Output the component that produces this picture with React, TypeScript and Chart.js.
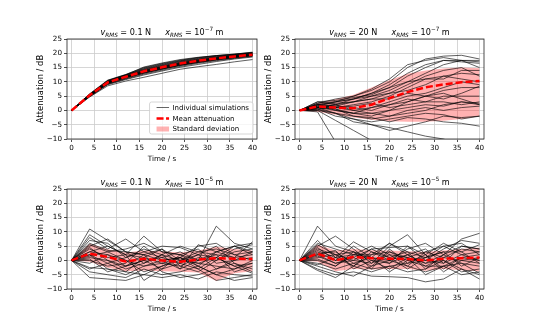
import React, { useEffect, useRef } from 'react';
import { Chart, registerables } from 'chart.js';
Chart.register(...registerables);

// ---------------- DATA ----------------
const TIME = [0, 4, 8, 12, 16, 20, 24, 28, 32, 36, 40];
const X_TICKS = [0, 5, 10, 15, 20, 25, 30, 35, 40];
const Y_TICKS = [-10, -5, 0, 5, 10, 15, 20, 25];
const FORCE_LABELS = ['0.1 N', '20 N', '0.1 N', '20 N'];
const DISP_EXPONENTS = ['\u22127', '\u22127', '\u22125', '\u22125'];
const LEGEND_LABELS = ['Individual simulations', 'Mean attenuation', 'Standard deviation'];
const X_TITLE = 'Time / s';
const Y_TITLE = 'Attenuation / dB';

// Panel 1: v = 0.1 N, x = 1e-7 m
const MEAN_1 = [0, 5.3, 9.8, 11.8, 13.7, 15.1, 16.4, 17.4, 18.2, 18.9, 19.5];
const LO_1 = [0, 4.8, 9.1, 11.0, 12.8, 14.3, 15.6, 16.7, 17.5, 18.3, 18.9];
const HI_1 = [0, 5.8, 10.4, 12.5, 14.6, 15.9, 17.2, 18.1, 18.9, 19.5, 20.1];
const SIMS_1 = [
  [0, 5.5, 10.2, 12.3, 14.4, 15.8, 17.1, 18.0, 18.8, 19.4, 20.1],
  [0, 5.2, 9.7, 11.7, 13.5, 14.9, 16.2, 17.2, 18.1, 18.8, 19.4],
  [0, 5.8, 10.6, 12.6, 15.0, 16.4, 17.6, 18.5, 19.2, 19.7, 20.4],
  [0, 4.9, 9.3, 11.2, 13.0, 14.4, 15.7, 16.8, 17.7, 18.4, 19.1],
  [0, 5.4, 10.0, 12.0, 14.0, 15.4, 16.7, 17.7, 18.5, 19.2, 19.8],
  [0, 5.1, 9.5, 11.5, 13.3, 14.7, 16.0, 17.0, 17.9, 18.6, 19.3],
  [0, 5.6, 10.4, 12.4, 14.6, 16.0, 17.3, 18.2, 19.0, 19.5, 20.1],
  [0, 4.7, 8.6, 10.3, 11.6, 13.0, 14.4, 15.3, 16.1, 17.0, 17.8],
  [0, 5.3, 9.9, 11.9, 13.8, 15.2, 16.5, 17.5, 18.3, 19.0, 19.6],
  [0, 5.0, 9.2, 11.0, 12.7, 14.1, 15.4, 16.5, 17.4, 18.2, 18.9],
  [0, 5.7, 10.5, 12.5, 15.2, 16.6, 17.8, 18.6, 19.2, 19.7, 20.3],
  [0, 5.3, 9.8, 11.8, 13.6, 15.1, 16.4, 17.4, 18.3, 19.0, 19.6],
  [0, 5.2, 9.6, 11.6, 13.2, 14.6, 15.9, 16.9, 17.8, 18.6, 19.2],
  [0, 5.5, 10.1, 12.2, 14.2, 15.6, 16.9, 17.9, 18.7, 19.3, 19.9],
  [0, 4.8, 9.0, 10.8, 12.4, 13.8, 15.1, 16.1, 17.1, 18.0, 18.7],
  [0, 5.4, 9.9, 11.9, 14.0, 15.3, 16.6, 17.6, 18.4, 19.1, 19.8],
  [0, 5.6, 10.3, 12.4, 14.8, 16.2, 17.4, 18.4, 19.1, 19.6, 20.2],
  [0, 5.1, 9.4, 11.4, 13.1, 14.5, 15.8, 16.8, 17.7, 18.5, 19.2],
  [0, 5.3, 9.7, 11.8, 13.7, 15.1, 16.3, 17.3, 18.2, 18.9, 19.5],
  [0, 5.0, 9.6, 11.6, 13.4, 14.8, 16.1, 17.1, 18.0, 18.8, 19.4],
];

// Panel 2: v = 20 N, x = 1e-7 m
const MEAN_2 = [0, 1.4, 1.0, 0.8, 2.0, 4.3, 6.4, 8.1, 9.1, 9.9, 10.3];
const LO_2 = [0, -0.5, -1.5, -2.5, -3.3, -3.8, -4.0, -4.0, -3.6, -3.0, -2.0];
const HI_2 = [0, 2.6, 3.9, 5.5, 8.0, 10.6, 12.8, 14.0, 14.7, 15.0, 14.8];
const SIMS_2 = [
  [0, 2.0, 3.0, 5.0, 7.0, 10.0, 15.0, 18.0, 19.0, 19.3, 18.0],
  [0, 2.5, 4.0, 5.0, 7.5, 11.0, 16.0, 17.5, 18.5, 17.5, 17.5],
  [0, 1.5, 3.0, 4.0, 6.0, 9.0, 13.0, 16.0, 17.5, 17.5, 17.0],
  [0, 3.0, 3.5, 4.5, 5.5, 8.0, 12.0, 15.0, 17.5, 17.0, 16.5],
  [0, 2.0, 2.5, 3.0, 5.0, 7.0, 10.0, 13.0, 16.0, 17.5, 15.0],
  [0, 1.0, 2.0, 3.0, 4.0, 6.0, 9.0, 12.0, 14.0, 15.0, 12.0],
  [0, 1.5, 1.0, 2.0, 3.0, 5.0, 8.0, 11.0, 12.0, 11.0, 10.0],
  [0, 0.5, 1.0, 0.0, 1.0, 3.0, 5.0, 6.0, 8.0, 10.0, 9.0],
  [0, 2.0, 1.5, 1.0, 0.0, 2.0, 3.0, 5.0, 4.0, 6.0, 8.5],
  [0, 1.0, 0.0, -1.0, 1.0, 2.0, 4.0, 3.0, 5.0, 5.0, 5.0],
  [0, 2.0, 1.0, 1.5, 2.5, 1.0, 2.0, 3.0, 3.0, 2.0, 3.0],
  [0, 3.0, 2.0, 0.0, -1.0, 0.0, 1.0, 2.0, 1.5, 3.0, 2.0],
  [0, 1.0, -1.0, -2.0, -3.0, -2.0, 0.0, 1.0, 0.0, 1.0, 1.5],
  [0, 0.5, -2.0, -3.0, -4.0, -3.0, -2.0, -1.0, -1.5, -3.0, -2.0],
  [0, 1.5, 0.5, -2.0, -2.5, -4.0, -2.5, -3.0, -4.0, -4.5, -5.5],
  [0, 0.0, -1.0, -4.0, -5.0, -6.0, -7.5, -9.0, -10.0, -12.0, -13.0],
  [0, -0.5, -11.0, -14.0, -16.0, -17.0, -18.0, -19.0, -20.0, -21.0, -22.0],
  [0, 0.0, -3.5, -7.0, -10.5, -14.0, -16.0, -18.0, -19.0, -20.0, -21.0],
  [0, 2.0, 0.0, -1.0, -1.0, -2.0, -1.0, 0.0, 2.0, 3.0, 2.5],
  [0, 1.0, 2.0, 4.0, 5.0, 6.0, 7.0, 9.0, 12.0, 13.0, 12.5],
  [0, 2.5, 3.0, 4.0, 6.0, 8.0, 10.0, 11.0, 11.0, 14.0, 14.0],
  [0, 1.0, 0.5, -1.0, -2.0, 0.0, 3.0, 5.0, 7.0, 8.0, 8.0],
  [0, 0.5, -1.0, -3.0, -5.0, -7.0, -5.5, -4.0, -2.0, -2.5, -2.0],
  [0, 1.0, 1.5, 3.0, 4.0, 4.0, 6.0, 5.0, 6.0, 4.0, 2.0],
];

// Panel 3: v = 0.1 N, x = 1e-5 m
const MEAN_3 = [0, 2.4, 1.2, -0.4, 0.6, 0.0, -0.5, 0.3, 0.8, 0.6, 0.5];
const LO_3 = [0, -0.5, -2.6, -3.8, -3.5, -3.8, -4.0, -4.2, -7.2, -4.5, -3.8];
const HI_3 = [0, 5.8, 3.9, 2.8, 3.5, 3.2, 2.8, 3.5, 4.8, 4.0, 3.5];
const SIMS_3 = [
  [0, 11.0, 7.0, 3.0, 2.0, 0.0, 1.0, -2.0, 3.0, 5.0, 6.0],
  [0, 9.0, 5.0, 2.0, 8.5, 3.0, 2.0, 0.0, 12.0, 6.0, 4.0],
  [0, 8.0, 4.0, 7.5, 3.0, 5.0, 4.5, 2.0, 5.0, -1.0, -4.0],
  [0, 7.0, 6.0, 1.0, 4.0, 2.0, 0.0, 3.0, 2.0, 1.0, 6.5],
  [0, 5.5, 3.0, 0.0, -2.0, -1.0, 1.0, 5.0, 6.0, 2.0, 3.0],
  [0, 4.0, 1.0, 2.0, 1.0, 4.0, -2.0, 1.0, 0.0, 4.0, 5.5],
  [0, 3.0, 2.0, -2.0, 0.0, -3.0, 2.0, 4.0, -1.0, 0.0, 1.0],
  [0, 2.0, -1.0, 1.0, 3.0, 1.0, -1.0, -3.0, 1.0, -2.0, -1.0],
  [0, 1.0, 0.0, -3.0, -1.0, 2.0, -3.0, 0.0, 3.0, 5.0, 2.0],
  [0, 0.0, -2.0, -1.0, 5.0, 0.0, 1.0, -1.0, -2.0, -3.0, 0.0],
  [0, -1.0, 2.0, 0.0, -4.0, -2.0, 0.0, 2.0, -3.0, -1.0, -3.0],
  [0, -2.5, -3.0, -4.0, 1.0, -1.0, -2.0, -4.0, 0.0, 3.0, 4.0],
  [0, -4.0, -5.0, -6.0, -3.0, -5.0, -4.0, -2.0, -5.0, -7.0, -6.0],
  [0, -6.0, -6.5, -7.0, -5.0, -6.0, -5.0, -6.5, -4.0, -5.0, -5.5],
  [0, 6.0, 3.5, 3.0, -1.0, 2.0, 5.0, 3.0, 4.0, 2.0, 0.0],
  [0, 3.0, 5.0, 2.0, -7.0, -3.0, -1.0, 2.0, 1.0, -2.0, -4.5],
  [0, 2.0, -3.0, -5.0, -2.0, 0.0, -3.0, 5.5, 3.0, 1.0, 2.0],
  [0, 4.5, 0.0, -2.0, 2.0, -4.0, -6.0, -5.0, -3.0, 0.0, 3.0],
  [0, 1.5, 3.0, 4.0, 6.0, 3.0, 2.0, -2.0, -5.0, -3.0, -1.0],
  [0, 0.5, -4.0, -2.0, 0.0, 1.0, 3.0, 0.0, 2.0, -4.0, -2.0],
  [0, 5.0, 7.5, 3.0, 2.0, 4.0, 0.0, -1.0, 1.0, 5.0, 3.0],
  [0, -3.0, -1.0, -4.0, -5.0, -2.0, 1.0, -3.0, -7.0, -6.0, -5.0],
];

// Panel 4: v = 20 N, x = 1e-5 m
const MEAN_4 = [0, 2.4, 0.1, 1.2, 0.8, 0.6, 0.5, 0.0, 0.6, 0.8, 1.0];
const LO_4 = [0, -0.5, -3.8, -3.0, -3.2, -3.0, -3.0, -3.6, -3.0, -3.4, -3.8];
const HI_4 = [0, 5.5, 3.5, 4.0, 3.6, 3.5, 3.2, 3.0, 3.5, 4.0, 4.5];
const SIMS_4 = [
  [0, 12.0, 5.0, 3.0, 1.0, 6.0, 2.0, -1.0, 2.0, 7.5, 9.5],
  [0, 7.0, 1.0, 6.5, 3.0, 0.0, 4.0, 6.0, 2.0, 5.0, 4.0],
  [0, 5.0, 8.5, 4.0, -1.0, 5.0, 9.0, 2.0, 6.0, 3.0, 5.5],
  [0, 6.0, 4.0, 2.0, 5.0, 2.0, 1.0, 3.0, 5.0, 6.0, 2.0],
  [0, 4.0, 2.0, 0.0, 4.0, 4.5, 5.0, 0.0, 4.0, 7.0, 6.0],
  [0, 3.0, 0.0, 5.0, 1.0, -1.0, 2.0, 4.0, -1.0, 2.0, 3.0],
  [0, 2.0, -1.0, 1.0, -2.0, 3.0, 0.0, -2.0, 1.0, 0.0, -1.0],
  [0, 1.0, 2.0, -2.0, 3.0, 1.0, -3.0, 1.0, 3.0, -2.0, 1.0],
  [0, 0.0, -2.0, 3.0, 0.0, -3.0, 1.0, -1.0, 0.0, -4.0, -3.0],
  [0, -1.0, -3.0, -1.0, -3.0, -2.0, -1.0, 2.0, -3.0, 1.0, 0.0],
  [0, -2.0, -4.0, -5.5, -2.0, 0.0, -2.0, -4.0, -2.0, -1.0, -4.5],
  [0, -3.0, -5.0, -4.0, -5.5, -5.7, -6.0, -7.5, -6.5, -3.0, -6.5],
  [0, -3.5, -6.0, -2.0, -4.0, -2.0, -4.0, -3.0, 0.0, -3.0, -5.0],
  [0, 3.5, 1.0, 2.0, 2.0, 6.0, 3.0, 1.0, 5.0, 2.0, 0.0],
  [0, 2.5, 3.0, -1.0, 1.0, 0.0, 2.0, -2.0, -2.0, 1.0, 2.0],
  [0, 1.5, -1.0, 0.0, -1.0, 2.0, -2.0, 3.0, 1.0, 4.0, 3.0],
  [0, 4.5, 0.0, 1.0, 4.0, 1.0, 3.0, -3.0, 2.0, -1.0, -2.0],
  [0, 2.0, 3.5, -3.0, 0.0, -1.0, 5.0, 2.0, -4.0, 0.0, 1.0],
  [0, 0.5, -2.0, 2.0, 1.0, -4.0, 0.0, 1.0, 3.0, 3.0, -1.0],
  [0, 5.5, 2.0, 3.0, -3.0, 4.0, -1.0, 0.0, -1.0, 5.0, 4.0],
  [0, -1.5, 1.0, -2.0, 2.0, 3.0, 1.0, -5.0, -2.0, -5.0, -4.0],
];

// ---------------- LAYOUT / STYLE ----------------
const FONT_FAMILY = '"DejaVu Sans"';
const TICK_FS = 7.2;
const XLABEL_FS = 7.2;
const YLABEL_FS = 8.4;
const LEGEND_FS = 7;
const TITLE_FS = 8.1;
const TITLE_SUB_FS = 5.7;
const Y_AXIS_W = 32;
const X_AXIS_H = 24;
const TITLE_H = 22;
const PAD_RIGHT = 8;
const GRID_COLOR = '#cbcbcb';
const FRAME_COLOR = '#222222';

type PanelSpec = {
  plotLeft: number; plotTop: number; plotW: number; plotH: number;
  mean: number[]; lo: number[]; hi: number[]; sims: number[][];
  force: string; exp: string; legend: boolean;
};

const PANELS: PanelSpec[] = [
  { plotLeft: 67, plotTop: 39, plotW: 190, plotH: 100, mean: MEAN_1, lo: LO_1, hi: HI_1, sims: SIMS_1, force: FORCE_LABELS[0], exp: DISP_EXPONENTS[0], legend: true },
  { plotLeft: 295, plotTop: 39, plotW: 189, plotH: 100, mean: MEAN_2, lo: LO_2, hi: HI_2, sims: SIMS_2, force: FORCE_LABELS[1], exp: DISP_EXPONENTS[1], legend: false },
  { plotLeft: 67, plotTop: 189, plotW: 190, plotH: 100, mean: MEAN_3, lo: LO_3, hi: HI_3, sims: SIMS_3, force: FORCE_LABELS[2], exp: DISP_EXPONENTS[2], legend: false },
  { plotLeft: 295, plotTop: 189, plotW: 189, plotH: 100, mean: MEAN_4, lo: LO_4, hi: HI_4, sims: SIMS_4, force: FORCE_LABELS[3], exp: DISP_EXPONENTS[3], legend: false },
];

const toXY = (arr: number[]) => arr.map((y, i) => ({ x: TIME[i], y }));

function drawTitle(ctx: CanvasRenderingContext2D, cx: number, baseline: number, force: string, exp: string) {
  const main = TITLE_FS;
  const small = TITLE_SUB_FS;
  const segs: { t?: string; f?: string; dy?: number; gap?: number }[] = [
    { t: 'v', f: `italic ${main}px ${FONT_FAMILY}`, dy: 0 },
    { t: 'RMS', f: `italic ${small}px ${FONT_FAMILY}`, dy: 1.8 },
    { t: ' = ' + force, f: `${main}px ${FONT_FAMILY}`, dy: 0 },
    { gap: 14 },
    { t: 'x', f: `italic ${main}px ${FONT_FAMILY}`, dy: 0 },
    { t: 'RMS', f: `italic ${small}px ${FONT_FAMILY}`, dy: 1.8 },
    { t: ' = 10', f: `${main}px ${FONT_FAMILY}`, dy: 0 },
    { t: exp, f: `${small}px ${FONT_FAMILY}`, dy: -3.8 },
    { t: ' m', f: `${main}px ${FONT_FAMILY}`, dy: 0 },
  ];
  ctx.save();
  ctx.fillStyle = '#000';
  ctx.textBaseline = 'alphabetic';
  ctx.textAlign = 'left';
  const widths = segs.map((s) => {
    if (s.gap) return s.gap;
    ctx.font = s.f!;
    return ctx.measureText(s.t!).width;
  });
  const total = widths.reduce((a, b) => a + b, 0);
  let x = cx - total / 2;
  segs.forEach((s, i) => {
    if (!s.gap) {
      ctx.font = s.f!;
      ctx.fillText(s.t!, x, baseline + (s.dy || 0));
    }
    x += widths[i];
  });
  ctx.restore();
}

function drawLegend(ctx: CanvasRenderingContext2D, area: { left: number; right: number; top: number; bottom: number }) {
  ctx.save();
  ctx.font = `${LEGEND_FS}px ${FONT_FAMILY}`;
  const tw = Math.max(...LEGEND_LABELS.map((l) => ctx.measureText(l).width));
  const w = 23 + tw + 4;
  const h = 32;
  const right = area.right - 4;
  const bottom = area.bottom - 5;
  const left = right - w;
  const top = bottom - h;
  const r = 2;
  ctx.beginPath();
  ctx.moveTo(left + r, top);
  ctx.lineTo(right - r, top);
  ctx.quadraticCurveTo(right, top, right, top + r);
  ctx.lineTo(right, bottom - r);
  ctx.quadraticCurveTo(right, bottom, right - r, bottom);
  ctx.lineTo(left + r, bottom);
  ctx.quadraticCurveTo(left, bottom, left, bottom - r);
  ctx.lineTo(left, top + r);
  ctx.quadraticCurveTo(left, top, left + r, top);
  ctx.closePath();
  ctx.fillStyle = 'rgba(255,255,255,0.8)';
  ctx.fill();
  ctx.strokeStyle = '#cccccc';
  ctx.lineWidth = 0.8;
  ctx.stroke();

  const rowY = [top + 5.5, top + 16.5, top + 27];
  const hx0 = left + 7;
  const hx1 = left + 19.5;
  ctx.beginPath();
  ctx.strokeStyle = 'rgba(0,0,0,0.6)';
  ctx.lineWidth = 1;
  ctx.moveTo(hx0, rowY[0]);
  ctx.lineTo(hx1, rowY[0]);
  ctx.stroke();
  ctx.beginPath();
  ctx.strokeStyle = '#ff0000';
  ctx.lineWidth = 2.5;
  ctx.setLineDash([7, 2.5]);
  ctx.moveTo(hx0, rowY[1]);
  ctx.lineTo(hx1, rowY[1]);
  ctx.stroke();
  ctx.setLineDash([]);
  ctx.fillStyle = 'rgba(255,0,0,0.3)';
  ctx.fillRect(hx0, rowY[2] - 2.5, hx1 - hx0, 5);

  ctx.fillStyle = '#000';
  ctx.textBaseline = 'middle';
  ctx.textAlign = 'left';
  LEGEND_LABELS.forEach((l, i) => ctx.fillText(l, left + 23, rowY[i] + 0.5));
  ctx.restore();
}

function buildConfig(p: PanelSpec): any {
  const tickFont = { family: FONT_FAMILY, size: TICK_FS, lineHeight: 1.2 };
  const xTitleFont = { family: FONT_FAMILY, size: XLABEL_FS, lineHeight: 1.2 };
  const yTitleFont = { family: FONT_FAMILY, size: YLABEL_FS, lineHeight: 1.2 };
  const datasets: any[] = [
    {
      label: LEGEND_LABELS[1], data: toXY(p.mean), borderColor: '#ff0000', borderWidth: 2.5,
      borderDash: [7, 3], pointRadius: 0, fill: false, order: 0, tension: 0,
    },
    {
      label: LEGEND_LABELS[2], data: toXY(p.hi), borderColor: 'rgba(0,0,0,0)', borderWidth: 1,
      backgroundColor: 'rgba(255,0,0,0.3)', pointRadius: 0, fill: 2, order: 3, tension: 0,
    },
    {
      label: 'lower', data: toXY(p.lo), borderColor: 'rgba(0,0,0,0)', borderWidth: 1,
      pointRadius: 0, fill: false, order: 3, tension: 0,
    },
    ...p.sims.map((s) => ({
      label: LEGEND_LABELS[0], data: toXY(s), borderColor: 'rgba(0,0,0,0.7)', borderWidth: 0.9,
      pointRadius: 0, fill: false, order: 2, tension: 0,
    })),
  ];

  const overlay = {
    id: 'overlay',
    afterDatasetsDraw(chart: any) {
      const { ctx, chartArea } = chart;
      ctx.save();
      ctx.strokeStyle = FRAME_COLOR;
      ctx.lineWidth = 0.8;
      ctx.strokeRect(chartArea.left, chartArea.top, chartArea.right - chartArea.left, chartArea.bottom - chartArea.top);
      ctx.restore();
      if (p.legend) drawLegend(ctx, chartArea);
    },
    afterDraw(chart: any) {
      const { ctx, chartArea } = chart;
      drawTitle(ctx, (chartArea.left + chartArea.right) / 2, chartArea.top - 4, p.force, p.exp);
    },
  };

  return {
    type: 'line',
    data: { datasets },
    options: {
      responsive: false,
      animation: false,
      events: [],
      layout: { padding: { left: 0, right: PAD_RIGHT, top: TITLE_H, bottom: 0 } },
      plugins: { legend: { display: false }, title: { display: false }, tooltip: { enabled: false } },
      scales: {
        x: {
          type: 'linear', min: -1, max: 41,
          afterBuildTicks: (s: any) => { s.ticks = X_TICKS.map((v) => ({ value: v })); },
          afterFit: (s: any) => { s.height = X_AXIS_H; },
          grid: { color: GRID_COLOR, lineWidth: 0.8, drawTicks: true, tickLength: 3, tickColor: FRAME_COLOR, tickWidth: 0.8 },
          border: { display: false },
          ticks: { font: tickFont, color: '#000', padding: 2, maxRotation: 0, autoSkip: false },
          title: { display: true, text: X_TITLE, font: xTitleFont, color: '#000', padding: { top: 0, bottom: 0 } },
        },
        y: {
          type: 'linear', min: -10, max: 25,
          afterBuildTicks: (s: any) => { s.ticks = Y_TICKS.map((v) => ({ value: v })); },
          afterFit: (s: any) => { s.width = Y_AXIS_W; },
          grid: { color: GRID_COLOR, lineWidth: 0.8, drawTicks: true, tickLength: 3, tickColor: FRAME_COLOR, tickWidth: 0.8 },
          border: { display: false },
          ticks: {
            font: tickFont, color: '#000', padding: 2, autoSkip: false,
            callback: (v: any) => String(v).replace('-', '\u2212'),
          },
          title: { display: true, text: Y_TITLE, font: yTitleFont, color: '#000', padding: { top: 1, bottom: 0 } },
        },
      },
    },
    plugins: [overlay],
  };
}

function Panel({ spec }: { spec: PanelSpec }) {
  const ref = useRef<HTMLCanvasElement>(null);
  const w = Y_AXIS_W + spec.plotW + PAD_RIGHT;
  const h = TITLE_H + spec.plotH + X_AXIS_H;
  useEffect(() => {
    const chart = new Chart(ref.current as HTMLCanvasElement, buildConfig(spec));
    return () => chart.destroy();
  }, []);
  return (
    <canvas
      ref={ref}
      width={w}
      height={h}
      style={{ position: 'absolute', left: spec.plotLeft - Y_AXIS_W, top: spec.plotTop - TITLE_H, width: w, height: h }}
    />
  );
}

export default function App() {
  return (
    <div style={{ position: 'absolute', left: 0, top: 0, width: 538, height: 325, background: '#fff', overflow: 'hidden' }}>
      {PANELS.map((p, i) => (
        <Panel key={i} spec={p} />
      ))}
    </div>
  );
}
